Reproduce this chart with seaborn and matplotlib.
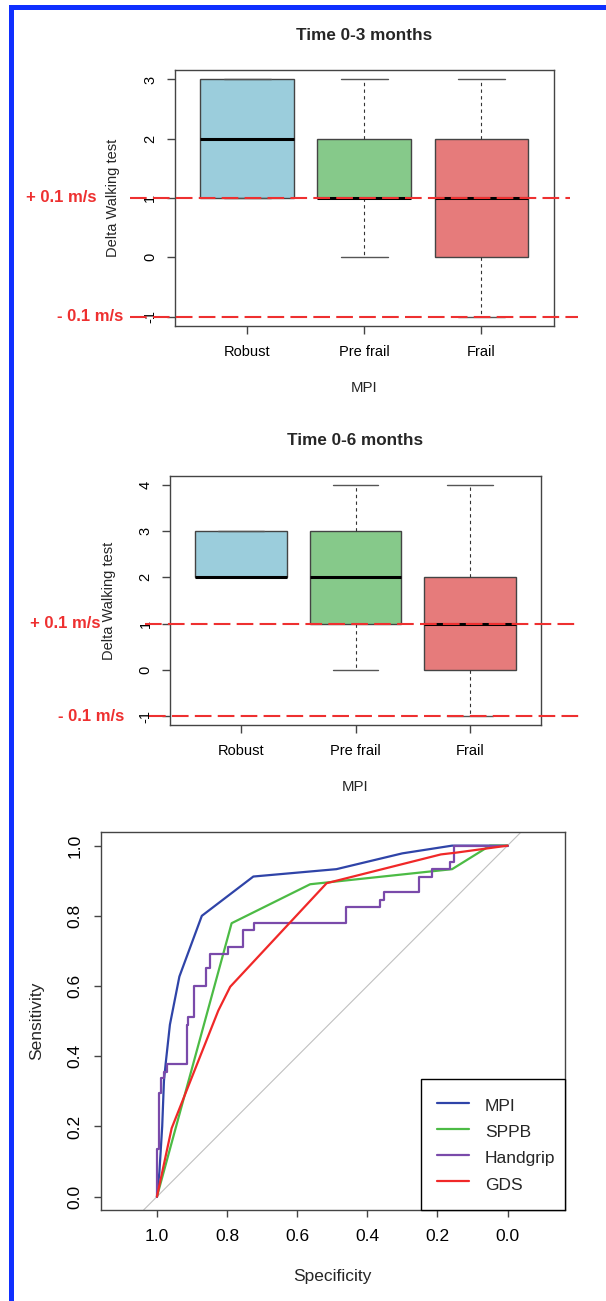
import pandas as pd
import seaborn as sns
import matplotlib.pyplot as plt
from matplotlib.patches import Rectangle
from matplotlib.transforms import blended_transform_factory

# --- data ---
groups = ['Robust', 'Pre frail', 'Frail']
box_colors = ['#9bcddc', '#86c98a', '#e67b7b']

# delta walking test per MPI group (quartiles / whiskers as in the boxes)
t3_robust = [1, 1, 2, 3, 3]
t3_prefrail = [0, 1, 1, 2, 3]
t3_frail = [-1, 0, 1, 2, 3]
t6_robust = [2, 2, 2, 3, 3]
t6_prefrail = [0, 1, 2, 3, 4]
t6_frail = [-1, 0, 1, 2, 4]

thresholds = [1, -1]
threshold_labels = ['+ 0.1 m/s', '- 0.1 m/s']

# ROC curves (specificity, sensitivity)
mpi_spec = [1.0, 0.993, 0.985, 0.98, 0.975, 0.963, 0.936, 0.872, 0.725, 0.488, 0.30, 0.158, 0.0]
mpi_sens = [0.0, 0.07, 0.2, 0.33, 0.38, 0.49, 0.627, 0.80, 0.912, 0.933, 0.978, 1.0, 1.0]
sppb_spec = [1.0, 0.787, 0.563, 0.158, 0.05, 0.0]
sppb_sens = [0.0, 0.779, 0.89, 0.933, 1.0, 1.0]
hand_spec = [1.0, 0.993, 0.987, 0.98, 0.972, 0.915, 0.91, 0.895, 0.86, 0.85, 0.796,
             0.754, 0.723, 0.461, 0.364, 0.351, 0.252, 0.214, 0.163, 0.152, 0.0]
hand_sens = [0.0, 0.135, 0.295, 0.337, 0.356, 0.378, 0.489, 0.513, 0.60, 0.651, 0.691,
             0.711, 0.76, 0.779, 0.824, 0.845, 0.869, 0.912, 0.933, 0.954, 1.0]
gds_spec = [1.0, 0.958, 0.825, 0.791, 0.516, 0.19, 0.147, 0.0]
gds_sens = [0.0, 0.195, 0.53, 0.598, 0.893, 0.975, 0.98, 1.0]

roc_names = ['MPI', 'SPPB', 'Handgrip', 'GDS']
roc_colors = ['#2f44a8', '#4cbb45', '#7a4aaa', '#f02828']

# --- style ---
sns.set_theme(style='ticks', context='paper')
plt.rcParams['font.family'] = ['Liberation Sans', 'DejaVu Sans']
EDGE = '#444444'
RED = '#ee3030'

W, H = 606, 1301
fig = plt.figure(figsize=(W / 100, H / 100), dpi=100)
fig.patch.set_facecolor('white')


def add_ax(x0, y0, x1, y1):
    # pixel box (top-left origin) -> figure fraction
    return fig.add_axes([x0 / W, 1 - y1 / H, (x1 - x0) / W, (y1 - y0) / H])


def frame(ax):
    for s in ax.spines.values():
        s.set_visible(True)
        s.set_color(EDGE)
        s.set_linewidth(1.0)
    ax.tick_params(colors=EDGE, length=5.5, width=1.0, labelcolor='black')


def box_panel(ax, values, title, ylim, yticks, lines_px, text_px):
    rows = []
    for g, v in zip(groups, values):
        rows += [(g, x) for x in v]
    df = pd.DataFrame(rows, columns=['group', 'delta'])
    sns.boxplot(data=df, x='group', y='delta', hue='group', order=groups, hue_order=groups,
                palette=dict(zip(groups, box_colors)), saturation=1, width=0.8, whis=1.5,
                legend=False, linecolor=EDGE, linewidth=1.0, fliersize=0, ax=ax,
                medianprops=dict(color='black', linewidth=2.2),
                whiskerprops=dict(color='#333333', linewidth=0.8, linestyle=(0, (3, 3))),
                capprops=dict(color='#555555', linewidth=1.0))
    ax.set_xlim(-0.62, 2.62)
    ax.set_ylim(*ylim)
    ax.set_yticks(yticks)
    ax.set_yticklabels([str(t) for t in yticks], rotation=90, va='center')
    frame(ax)
    ax.tick_params(axis='y', pad=7, labelsize=10.5)
    ax.tick_params(axis='x', pad=8, labelsize=10.5)
    ax.set_xlabel('MPI', fontsize=10.8)
    ax.set_ylabel('Delta Walking test', fontsize=10.5)
    bb = ax.get_position()
    axw, axh = bb.width * W, bb.height * H
    ax.xaxis.set_label_coords(0.5, -62 / axh)
    ax.xaxis.label.set_va('center')
    ax.yaxis.set_label_coords(-61.5 / axw, 0.5)
    ax.yaxis.label.set_va('center')
    ax.text(0.5, 1 + 35 / axh, title, transform=ax.transAxes, ha='center', va='center',
            fontsize=12.3, fontweight='bold')
    # threshold lines and labels
    x0 = bb.x0 * W
    tr = blended_transform_factory(fig.transFigure, ax.transData)
    for y, lab, (l0, l1), tx in zip(thresholds, threshold_labels, lines_px, text_px):
        ax.axhline(y, xmin=(l0 - x0) / axw, xmax=(l1 - x0) / axw, color=RED,
                   linewidth=1.5, dashes=(8, 3), clip_on=False, zorder=5)
        ax.text(tx / W, y, lab, transform=tr, ha='right', va='center', color=RED,
                fontsize=12, fontweight='bold')


ax1 = add_ax(174.7, 70, 553.9, 326)
box_panel(ax1, [t3_robust, t3_prefrail, t3_frail], 'Time 0-3 months', (-1.16, 3.16),
          [-1, 0, 1, 2, 3], [(129.5, 570), (129.5, 578)], [97, 123])

ax2 = add_ax(170, 475.7, 541, 725.3)
box_panel(ax2, [t6_robust, t6_prefrail, t6_frail], 'Time 0-6 months', (-1.2, 4.2),
          [-1, 0, 1, 2, 3, 4], [(145, 576), (149, 582)], [101, 124.5])

# --- ROC panel ---
ax3 = add_ax(100.5, 832.3, 565, 1210)
ax3.axline((1, 0), (0, 1), color='#c0c0c0', linewidth=0.8, zorder=1)
roc = [(mpi_spec, mpi_sens), (sppb_spec, sppb_sens), (hand_spec, hand_sens), (gds_spec, gds_sens)]
for name, col, (sp, se) in zip(roc_names, roc_colors, roc):
    d = pd.DataFrame({'Specificity': sp, 'Sensitivity': se})
    ds = 'steps-pre' if name == 'Handgrip' else 'default'
    sns.lineplot(data=d, x='Specificity', y='Sensitivity', sort=False, estimator=None,
                 color=col, linewidth=1.6, label=name, drawstyle=ds, ax=ax3, zorder=3)

ax3.set_xlim(1.161, -0.164)
ax3.set_ylim(-0.038, 1.038)
ticks = [0.0, 0.2, 0.4, 0.6, 0.8, 1.0]
ax3.set_xticks(ticks)
ax3.set_xticklabels([f'{t:.1f}' for t in ticks])
ax3.set_yticks(ticks)
ax3.set_yticklabels([f'{t:.1f}' for t in ticks], rotation=90, va='center')
frame(ax3)
ax3.tick_params(axis='both', labelsize=12.5, length=5)
ax3.tick_params(axis='x', pad=9)
ax3.tick_params(axis='y', pad=8)
ax3.set_xlabel('Specificity', fontsize=12.5)
ax3.set_ylabel('Sensitivity', fontsize=12.5)
ax3.xaxis.set_label_coords(0.5, -66 / 377.7)
ax3.xaxis.label.set_va('center')
ax3.yaxis.set_label_coords(-63.8 / 464.5, 0.5)
ax3.yaxis.label.set_va('center')
leg = ax3.legend(loc='lower left', bbox_to_anchor=(0.6906, 0.0, 0.3094, 0.346), mode='expand',
                 borderaxespad=0, fontsize=12.5, frameon=True, fancybox=False, framealpha=1,
                 edgecolor='black', borderpad=0.9, labelspacing=0.28, handlelength=1.87,
                 handleheight=1.5, handletextpad=0.9)
leg.get_frame().set_linewidth(1.0)
for h in leg.get_lines():
    h.set_linewidth(1.6)

# blue frame on top and left
fig.add_artist(Rectangle((9 / W, 1 - 10 / H), 1, 4.7 / H, transform=fig.transFigure,
                         color='#0f2fff', lw=0))
fig.add_artist(Rectangle((9 / W, 0), 5 / W, 1 - 5.3 / H, transform=fig.transFigure,
                         color='#0f2fff', lw=0))

fig.savefig('out.png', dpi=100, facecolor='white')
